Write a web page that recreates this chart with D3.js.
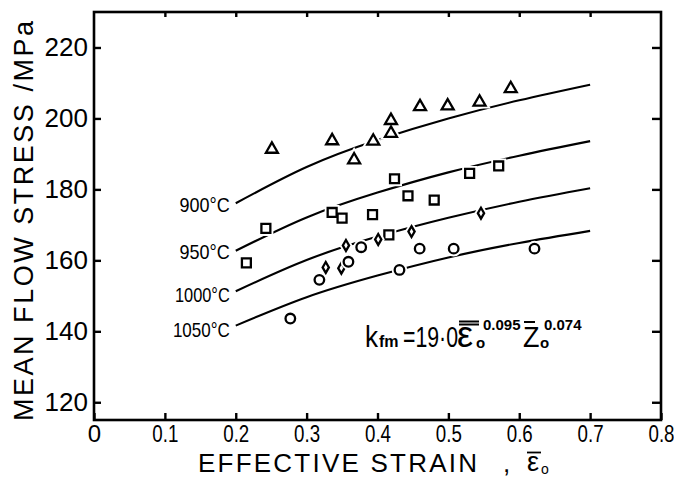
<!DOCTYPE html>
<html>
<head>
<meta charset="utf-8">
<script src="https://cdn.jsdelivr.net/npm/d3@7"></script>
<style>
  html, body { margin: 0; padding: 0; background: #fff; }
  svg { display: block; }
  text { font-family: "Liberation Sans", Arial, sans-serif; fill: #000; }
</style>
</head>
<body>
<svg id="chart" width="674" height="486"></svg>
<script>
// Axis ticks
const strainTicks = [0, 0.1, 0.2, 0.3, 0.4, 0.5, 0.6, 0.7, 0.8];
const stressTicks = [120, 140, 160, 180, 200, 220];

// Model curves, one per temperature
const temps = ["900°C", "950°C", "1000°C", "1050°C"];
const curveStrain = [0.2, 0.3, 0.4, 0.5, 0.6, 0.7];
const curve900 = [176.1, 186.3, 193.9, 200.0, 205.1, 209.5];
const curve950 = [162.7, 172.1, 179.1, 184.8, 189.5, 193.6];
const curve1000 = [151.3, 160.1, 166.7, 172.0, 176.5, 180.3];
const curve1050 = [141.6, 149.6, 155.7, 160.8, 164.9, 168.3];

// Measured points
const strain900 = [0.251, 0.336, 0.367, 0.394, 0.419, 0.419, 0.460, 0.499, 0.544, 0.588];
const stress900 = [191.3, 193.7, 188.3, 193.6, 199.4, 195.8, 203.3, 203.5, 204.6, 208.4];
const strain950 = [0.215, 0.2425, 0.336, 0.350, 0.393, 0.416, 0.424, 0.443, 0.480, 0.530, 0.571];
const stress950 = [159.3, 169.0, 173.5, 171.9, 172.9, 167.2, 183.0, 178.2, 177.0, 184.5, 186.6];
const strain1000 = [0.327, 0.349, 0.3555, 0.401, 0.448, 0.546];
const stress1000 = [158.0, 157.8, 164.2, 165.9, 168.1, 173.3];
const strain1050 = [0.277, 0.318, 0.359, 0.377, 0.431, 0.4595, 0.5075, 0.6215];
const stress1050 = [143.6, 154.5, 159.6, 163.7, 157.3, 163.3, 163.3, 163.3];

const svg = d3.select("#chart");
const L = 94, R = 661, T = 12, B = 420;

const x = d3.scaleLinear().domain([0, 0.8]).range([L, R]);
const y = d3.scaleLinear().domain([115, 230]).range([B, T]);

// Axes with inward ticks
const xAxis = svg.append("g").attr("transform", `translate(0,${B})`)
  .call(d3.axisBottom(x).tickValues(strainTicks).tickSize(-7).tickPadding(5)
    .tickFormat(d => d === 0 ? "0" : d.toFixed(1)));
xAxis.selectAll("text").attr("font-size", 24)
  .attr("transform", d => d === 0 ? null : "scale(0.78,1)");

const yAxis = svg.append("g").attr("transform", `translate(${L},0)`)
  .call(d3.axisLeft(y).tickValues(stressTicks).tickSize(-7).tickPadding(6));
yAxis.selectAll("text").attr("font-size", 26);

svg.append("g").attr("transform", `translate(0,${T})`)
  .call(d3.axisTop(x).tickValues(strainTicks.slice(1, -1)).tickSize(-5).tickFormat(""));
svg.append("g").attr("transform", `translate(${R},0)`)
  .call(d3.axisRight(y).tickValues(stressTicks).tickSize(-9).tickFormat(""));

svg.selectAll(".domain").remove();
svg.selectAll(".tick line").attr("stroke", "#000").attr("stroke-width", 2.4);
svg.selectAll(".tick text").attr("fill", "#000").attr("font-family", '"Liberation Sans", Arial, sans-serif');

// Frame
svg.append("rect").attr("x", L).attr("y", T).attr("width", R - L).attr("height", B - T)
  .attr("fill", "none").attr("stroke", "#000").attr("stroke-width", 2.6);

// Curves with temperature labels at their left ends
const curves = [curve900, curve950, curve1000, curve1050];
const labelSquash = [0.9, 0.9, 0.82, 0.85];
const labelDrop = [8.5, 8.5, 10.5, 11.5];
const line = d3.line().x(d => x(d[0])).y(d => y(d[1])).curve(d3.curveNatural);
curves.forEach((c, i) => {
  const pts = curveStrain.map((s, j) => [s, c[j]]);
  svg.append("path").attr("d", line(pts)).attr("fill", "none")
    .attr("stroke", "#000").attr("stroke-width", 2.1);
  svg.append("text")
    .attr("transform", `translate(${x(curveStrain[0]) - 6},${y(c[0]) + labelDrop[i]}) scale(${labelSquash[i]},1)`)
    .attr("text-anchor", "end").attr("font-size", 20)
    .text(temps[i]);
});

// Markers
const groups = [
  { s: strain900, v: stress900, type: d3.symbolTriangle, size: 62 },
  { s: strain950, v: stress950, type: d3.symbolSquare, size: 80 },
  { s: strain1000, v: stress1000, type: d3.symbolDiamond, size: 34 },
  { s: strain1050, v: stress1050, type: d3.symbolCircle, size: 72 }
];
groups.forEach(g => {
  const sym = d3.symbol().type(g.type).size(g.size);
  const pts = g.s.map((s, i) => [s, g.v[i]]);
  // white halo so the curves break around markers
  svg.append("g").selectAll("path").data(pts).join("path")
    .attr("transform", d => `translate(${x(d[0])},${y(d[1])})`)
    .attr("d", sym).attr("fill", "#fff").attr("stroke", "#fff").attr("stroke-width", 6);
  svg.append("g").selectAll("path").data(pts).join("path")
    .attr("transform", d => `translate(${x(d[0])},${y(d[1])})`)
    .attr("d", sym).attr("fill", "#fff").attr("stroke", "#000").attr("stroke-width", 2.3);
});

// Equation pieces: text, left x, baseline y, size, horizontal squash, weight
const eqParts = [
  { t: "k", x: 365, y: 347, fs: 30, sx: 0.87 },
  { t: "fm", x: 379, y: 347, fs: 16, sx: 1, bold: true },
  { t: "=19·0", x: 403, y: 347, fs: 30, sx: 0.71 },
  { t: "ε", x: 457, y: 347, fs: 36, sx: 1 },
  { t: "o", x: 476, y: 348, fs: 15, sx: 1, bold: true },
  { t: "0.095", x: 483, y: 330, fs: 15, sx: 1, bold: true },
  { t: "Z", x: 523, y: 347, fs: 30, sx: 0.9 },
  { t: "o", x: 540, y: 348, fs: 15, sx: 1, bold: true },
  { t: "0.074", x: 544, y: 330, fs: 15, sx: 1, bold: true }
];
const eq = svg.append("g");
eqParts.forEach(p => {
  eq.append("text").attr("transform", `translate(${p.x},${p.y}) scale(${p.sx},1)`)
    .attr("font-size", p.fs).attr("font-weight", p.bold ? "bold" : "normal").text(p.t);
});
eq.append("path").attr("d", "M459,321.5H479M459,324.5H479M524,322H535")
  .attr("stroke", "#000").attr("stroke-width", 1.8);

// Axis titles
svg.append("text").attr("x", 198).attr("y", 472).attr("font-size", 26)
  .attr("textLength", 279).attr("lengthAdjust", "spacing").text("EFFECTIVE STRAIN");
svg.append("text").attr("x", 503).attr("y", 472).attr("font-size", 26).text(",");
svg.append("text").attr("x", 527).attr("y", 471).attr("font-size", 27).text("ε");
svg.append("text").attr("x", 541).attr("y", 474).attr("font-size", 14).text("o");
svg.append("path").attr("d", "M527,452.5H541").attr("stroke", "#000").attr("stroke-width", 1.8);

svg.append("text").attr("transform", "translate(33,221) rotate(-90)")
  .attr("text-anchor", "middle").attr("font-size", 27)
  .attr("textLength", 400).attr("lengthAdjust", "spacing")
  .text("MEAN FLOW STRESS /MPa");
</script>
</body>
</html>
